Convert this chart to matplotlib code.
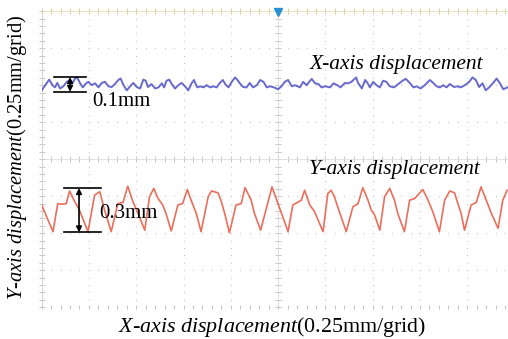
import numpy as np
import matplotlib.pyplot as plt

plt.rcParams['font.family'] = ['Liberation Serif', 'DejaVu Serif']
plt.rcParams['mathtext.fontset'] = 'custom'
plt.rcParams['mathtext.rm'] = 'Liberation Serif'
plt.rcParams['mathtext.it'] = 'Liberation Serif:italic'

# screen positions in grid divisions (0.25 mm / grid)
x_trace_t = [0.00, 0.105, 0.16, 0.23, 0.28, 0.33, 0.39, 0.46, 0.53, 0.60, 0.65, 0.70, 0.75,
             0.81, 0.87, 0.94, 0.99, 1.06, 1.13, 1.20, 1.27, 1.34, 1.41, 1.48, 1.55, 1.62,
             1.67, 1.73, 1.80, 1.87, 1.94, 2.01, 2.08, 2.15, 2.20, 2.25, 2.32, 2.40, 2.47,
             2.54, 2.59, 2.64, 2.70, 2.75, 2.82, 2.89, 2.96, 3.03, 3.10, 3.17, 3.22, 3.29,
             3.35, 3.42, 3.49, 3.56, 3.63, 3.70, 3.76, 3.83, 3.88, 3.95, 4.02, 4.09, 4.14,
             4.19, 4.26, 4.33, 4.40, 4.47, 4.55, 4.62, 4.69, 4.76, 4.83, 4.91, 5.00, 5.07,
             5.14, 5.21, 5.29, 5.36, 5.46, 5.53, 5.60, 5.71, 5.78, 5.85, 5.92, 5.99, 6.10,
             6.17, 6.25, 6.32, 6.41, 6.48, 6.55, 6.65, 6.69, 6.77, 6.84, 6.89, 6.94, 7.01,
             7.08, 7.15, 7.22, 7.29, 7.36, 7.45, 7.54, 7.63, 7.70, 7.79, 7.86, 7.93, 8.01,
             8.10, 8.21, 8.28, 8.35, 8.42, 8.49, 8.56, 8.63, 8.72, 8.79, 8.86, 8.95, 9.04,
             9.11, 9.18, 9.25, 9.32, 9.39, 9.46, 9.54, 9.62, 9.69, 9.76, 9.85]
x_trace_v = [1.86, 2.05, 2.15, 2.00, 1.94, 2.06, 1.91, 1.97, 2.09, 2.14, 2.05, 2.17, 2.21,
             2.06, 1.94, 2.05, 2.09, 2.00, 2.05, 1.94, 2.06, 2.09, 1.97, 1.95, 2.03, 2.14,
             2.18, 2.00, 1.86, 1.97, 2.06, 1.95, 1.91, 2.15, 2.12, 1.95, 2.03, 1.91, 1.94,
             2.05, 1.94, 2.12, 2.15, 2.03, 1.91, 2.00, 2.06, 1.97, 1.86, 2.05, 2.14, 1.94,
             1.97, 1.94, 2.00, 1.94, 1.97, 1.94, 2.05, 2.14, 2.03, 1.94, 2.09, 2.21, 2.14,
             2.05, 1.95, 1.94, 2.06, 1.94, 2.00, 2.14, 2.09, 1.94, 1.97, 1.94, 1.89, 1.97,
             2.09, 2.14, 1.97, 2.00, 1.94, 2.09, 2.00, 2.17, 2.05, 2.03, 1.94, 1.97, 1.94,
             2.05, 2.00, 1.94, 2.06, 2.05, 2.09, 2.21, 2.06, 1.91, 2.14, 2.06, 1.94, 2.09,
             2.00, 1.94, 2.12, 2.09, 1.97, 1.94, 2.03, 2.12, 2.17, 2.05, 1.94, 1.97, 1.91,
             2.00, 2.14, 2.06, 1.97, 1.94, 2.00, 1.94, 2.03, 1.95, 1.97, 1.94, 2.00, 2.09,
             2.21, 2.14, 1.95, 2.05, 1.86, 1.94, 2.05, 2.18, 2.05, 1.89, 1.94]

y_trace_t = [0.00, 0.24, 0.34, 0.43, 0.52, 0.59, 0.70, 0.80, 0.98, 1.12, 1.23, 1.33, 1.47,
             1.61, 1.72, 1.82, 1.93, 2.04, 2.18, 2.28, 2.37, 2.46, 2.56, 2.63, 2.74, 2.88,
             2.98, 3.08, 3.16, 3.27, 3.37, 3.52, 3.59, 3.73, 3.80, 3.87, 3.97, 4.11, 4.22,
             4.30, 4.43, 4.50, 4.63, 4.87, 5.21, 5.31, 5.49, 5.56, 5.67, 5.77, 5.95, 6.05,
             6.12, 6.19, 6.26, 6.44, 6.58, 6.69, 6.79, 6.90, 6.97, 7.04, 7.15, 7.25, 7.36,
             7.46, 7.53, 7.67, 7.78, 7.89, 8.06, 8.17, 8.27, 8.41, 8.52, 8.63, 8.73, 8.80,
             8.87, 8.94, 9.08, 9.19, 9.29, 9.40, 9.51, 9.65, 9.75, 9.84]
y_trace_v = [-1.24, -1.96, -1.20, -1.22, -1.20, -0.86, -1.15, -1.38, -1.96, -0.97, -0.88,
             -1.38, -1.96, -1.20, -1.17, -0.73, -1.15, -1.47, -1.92, -1.02, -0.79, -1.06,
             -1.24, -1.47, -1.94, -1.24, -1.20, -0.82, -1.11, -1.47, -1.96, -1.02, -0.86,
             -0.91, -1.15, -1.47, -1.99, -1.24, -1.20, -0.77, -1.11, -1.47, -1.92, -0.75,
             -1.96, -1.24, -1.11, -0.84, -1.24, -1.42, -1.96, -0.93, -0.84, -1.02, -1.29,
             -1.96, -1.29, -1.20, -0.77, -1.11, -1.38, -1.51, -1.92, -1.02, -0.79, -1.11,
             -1.47, -1.96, -1.11, -1.06, -0.82, -1.11, -1.42, -1.96, -1.11, -0.86, -0.91,
             -1.20, -1.47, -1.92, -1.24, -1.17, -0.75, -1.11, -1.47, -1.87, -1.11, -0.84]

# peak-to-peak markers: (x0, x1, arrow x, top, bottom) in divisions
x_pp = (0.26, 0.94, 0.60, 2.22, 1.82)
y_pp = (0.47, 1.25, 0.79, -0.78, -1.98)

fig = plt.figure(figsize=(5.08, 3.39), dpi=100)
ax = fig.add_axes([0.082, 0.094, 0.918, 0.873])
ax.set_xlim(0, 9.86)
ax.set_ylim(-4, 4)
for s in ax.spines.values():
    s.set_visible(False)
ax.set_xticks([])
ax.set_yticks([])

dot = '#c8c8c8'
ys = np.arange(-4, 4.01, 0.2)
xs = np.arange(0, 9.87, 0.2)
for gx in range(1, 10):
    if gx != 5:
        ax.scatter(np.full_like(ys, gx), ys, s=0.8, color=dot, lw=0, zorder=1)
for gy in range(-4, 4):
    if gy != 0:
        ax.scatter(xs, np.full_like(xs, gy), s=0.8, color=dot, lw=0, zorder=1)

# centre cross and borders with small ticks
tick = '#c6c6c6'
ax.plot(np.full_like(ys, 5), ys, ls='none', marker='_', ms=5, mew=0.7, color=tick, zorder=1)
ax.plot(xs, np.zeros_like(xs), ls='none', marker='|', ms=5, mew=0.7, color=tick, zorder=1)
ax.axvline(5, color='#dcdcdc', lw=0.6, zorder=1)
ax.axhline(0, color='#dcdcdc', lw=0.6, zorder=1)
ax.plot(np.zeros_like(ys), ys, ls='none', marker='_', ms=5, mew=0.7, color=tick, zorder=1, clip_on=False)
ax.axvline(0, color='#d4d4d4', lw=0.8, zorder=1)
ax.plot(xs, np.full_like(xs, 4), ls='none', marker='|', ms=5, mew=0.8, color='#d9d3a8', zorder=1, clip_on=False)
ax.axhline(4, color='#e3dcb0', lw=1.2, zorder=1)
ax.plot(xs, np.full_like(xs, -4), ls='none', marker='|', ms=3, mew=0.7, color=tick, zorder=1, clip_on=False)
ax.plot(5, 3.97, marker='v', ms=6, color='#2a8fd4', clip_on=False, zorder=5)

ax.plot(x_trace_t, x_trace_v, color='#4d4fc4', lw=1.4, alpha=0.85, zorder=3)
ax.plot(y_trace_t, y_trace_v, color='#e8553f', lw=1.2, alpha=0.85, zorder=3)

for x0, x1, xa, top, bot in (x_pp, y_pp):
    ax.plot([x0, x1], [top, top], color='black', lw=1.2, zorder=4)
    ax.plot([x0, x1], [bot, bot], color='black', lw=1.2, zorder=4)
    ax.annotate('', xy=(xa, top), xytext=(xa, bot),
                arrowprops=dict(arrowstyle='<|-|>', color='black', lw=1.2,
                                mutation_scale=8, shrinkA=0, shrinkB=0), zorder=4)

ax.text(1.06, 1.57, '0.1mm', fontsize=15, va='center', ha='left')
ax.text(1.21, -1.48, '0.3mm', fontsize=15, va='center', ha='left')
ax.text(7.51, 2.56, 'X-axis displacement', fontsize=15.5, style='italic', ha='center', va='center')
ax.text(7.45, -0.28, 'Y-axis displacement', fontsize=15.5, style='italic', ha='center', va='center')

fig.text(0.535, 0.036, r'$\mathit{X}$-$\mathit{axis\ displacement}$(0.25mm/grid)',
         fontsize=15.8, ha='center', va='center')
fig.text(0.034, 0.537, r'$\mathit{Y}$-$\mathit{axis\ displacement}$(0.25mm/grid)',
         fontsize=14.8, ha='center', va='center', rotation=90)

fig.savefig('out.png', dpi=100)
